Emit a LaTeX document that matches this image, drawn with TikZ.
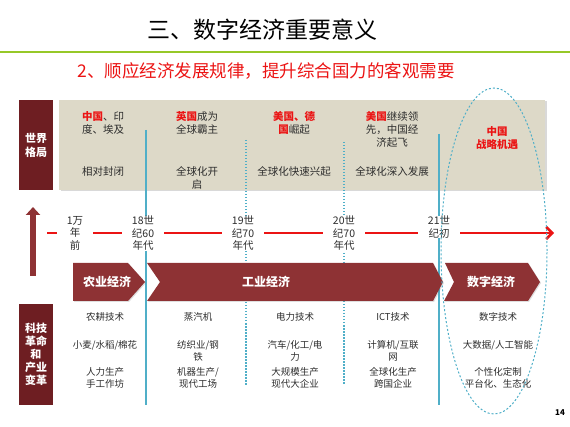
\documentclass[tikz,border=0pt]{standalone}
\usepackage{fontspec}
\setmainfont{Noto Sans CJK SC}
\usepackage{xcolor}
\usepackage{tikz}
\usetikzlibrary{arrows.meta, positioning, calc, shadows}
\definecolor{emaroon}{RGB}{110, 30, 34}
\definecolor{echev}{RGB}{142, 50, 52}
\definecolor{eband}{RGB}{221, 217, 200}
\definecolor{eblue}{RGB}{80, 175, 200}
\definecolor{egreen}{RGB}{150, 200, 40}
\definecolor{ered}{RGB}{235, 20, 20}
\definecolor{etext}{RGB}{45, 45, 45}
\tikzset{
  sidebox/.style={fill=emaroon, text=white, align=center, minimum width=34pt, inner sep=0pt},
  bandtxt/.style={anchor=north, align=center, text=etext, inner sep=0pt, font=\fontsize{10.5}{13}\selectfont},
  celltxt/.style={anchor=north, align=center, text=etext, inner sep=0pt, font=\fontsize{9.5}{12.5}\selectfont},
  yeartxt/.style={anchor=north, fill=white, align=center, text=etext, inner xsep=10pt, inner ysep=0pt, font=\fontsize{10.5}{12.5}\selectfont},
  chevtxt/.style={text=white, font=\fontsize{12}{14}\selectfont\bfseries},
  sepline/.style={eblue, line width=1.2pt},
  sepdots/.style={eblue, line width=1.2pt, dash pattern=on 1.5pt off 1.5pt}
}
\newcommand{\hot}[1]{\textcolor{ered}{\bfseries #1}}
\begin{document}
\begin{tikzpicture}[x=1pt, y=-1pt]
    \useasboundingbox (0,0) rectangle (570,427);

    % Title and subtitle
    \node (title) at (262,30) {\fontsize{23}{26}\selectfont 三、数字经济重要意义};
    \draw[egreen, line width=2.5pt] (0,52) -- (570,52);
    \node[text=ered] (subtitle) at (266,71) {\fontsize{17.5}{20}\selectfont 2、顺应经济发展规律，提升综合国力的客观需要};

    % World pattern band
    \fill[eband, drop shadow={shadow xshift=1.5pt, shadow yshift=-1.5pt, opacity=0.3}] (59,100) rectangle (545,190);
    \node[sidebox, minimum height=90pt, font=\fontsize{11}{14}\selectfont\bfseries] (world) at (36,145) {世界\\格局};

    % Separators
    \foreach \name/\x/\ya/\yb/\sty in {a/146/130/405/sepline, b/246/140/385/sepdots, c/344/142/385/sepdots, d/439/134/405/sepline} {
        \coordinate (sep\name-top) at (\x,\ya);
        \coordinate (sep\name-bot) at (\x,\yb);
        \draw[\sty] (sep\name-top) -- (sep\name-bot);
    }

    \node[bandtxt] (w1) at (103,111) {\hot{中国}、印\\度、埃及};
    \node[bandtxt] (w2) at (197,111) {\hot{英国}成为\\全球霸主};
    \node[bandtxt] (w3) at (294,111) {\hot{美国、德}\\\hot{国}崛起};
    \node[bandtxt] (w4) at (392,111) {\hot{美国}继续领\\先，中国经\\济起飞};
    \node[bandtxt, text=ered, font=\fontsize{10.5}{13}\selectfont\bfseries] (w5) at (497,126) {中国\\战略机遇};
    \node[bandtxt] (g1) at (103,166) {相对封闭};
    \node[bandtxt] (g2) at (197,166) {全球化开\\启};
    \node[bandtxt] (g3) at (294,166) {全球化快速兴起};
    \node[bandtxt] (g4) at (392,166) {全球化深入发展};

    % Timeline
    \coordinate (up-start) at (33,276);
    \coordinate (up-end) at (33,207);
    \draw[echev, line width=6pt, -{Triangle[length=8pt, width=14pt]}] (up-start) -- (up-end);
    \coordinate (tl-start) at (47,233);
    \coordinate (tl-end) at (554,233);
    \draw[ered, line width=2.5pt, -{Straight Barb[length=6pt, width=12pt]}] (tl-start) -- (tl-end);
    \node[yeartxt] (y1) at (75,216) {1万\\年\\前};
    \node[yeartxt] (y2) at (143,216) {18世\\纪60\\年代};
    \node[yeartxt] (y3) at (243,216) {19世\\纪70\\年代};
    \node[yeartxt] (y4) at (344,216) {20世\\纪70\\年代};
    \node[yeartxt] (y5) at (439,216) {21世\\纪初};

    % Economy chevrons
    \fill[echev, drop shadow={shadow xshift=1pt, shadow yshift=-1pt, opacity=0.25}] (73,263) -- (128,263) -- (145,282) -- (128,301) -- (73,301) -- cycle;
    \fill[echev, drop shadow={shadow xshift=1pt, shadow yshift=-1pt, opacity=0.25}] (147,263) -- (433,263) -- (443,282) -- (433,301) -- (147,301) -- (160,282) -- cycle;
    \fill[echev, drop shadow={shadow xshift=1pt, shadow yshift=-1pt, opacity=0.25}] (445,263) -- (528,263) -- (540,282) -- (528,301) -- (444,301) -- (454,282) -- cycle;
    \node[chevtxt] (agri) at (107,282) {农业经济};
    \node[chevtxt] (indu) at (266,282) {工业经济};
    \node[chevtxt] (digi) at (491,282) {数字经济};

    % Technology and industry table
    \node[sidebox, minimum height=101pt, font=\fontsize{11}{13}\selectfont\bfseries] (tech) at (36,354.5) {科技\\革命\\和\\产业\\变革};
    \node[celltxt] (t11) at (105,312) {农耕技术};
    \node[celltxt] (t12) at (105,340) {小麦/水稻/棉花};
    \node[celltxt] (t13) at (105,367) {人力生产\\手工作坊};
    \node[celltxt] (t21) at (198,312) {蒸汽机};
    \node[celltxt] (t22) at (198,340) {纺织业/钢\\铁};
    \node[celltxt] (t23) at (198,367) {机器生产/\\现代工场};
    \node[celltxt] (t31) at (295,312) {电力技术};
    \node[celltxt] (t32) at (295,340) {汽车/化工/电\\力};
    \node[celltxt] (t33) at (295,367) {大规模生产\\现代大企业};
    \node[celltxt] (t41) at (393,312) {ICT技术};
    \node[celltxt] (t42) at (393,340) {计算机/互联\\网};
    \node[celltxt] (t43) at (393,367) {全球化生产\\跨国企业};
    \node[celltxt] (t51) at (498,312) {数字技术};
    \node[celltxt] (t52) at (498,340) {大数据/人工智能};
    \node[celltxt] (t53) at (498,367) {个性化定制\\平台化、生态化};

    % Opportunity ellipse
    \draw[eblue, line width=1pt, dash pattern=on 2pt off 2pt] (494,251) ellipse [x radius=53pt, y radius=163pt];

    \node[font=\fontsize{8}{9}\selectfont\bfseries] (page) at (560,413) {14};
\end{tikzpicture}
\end{document}
